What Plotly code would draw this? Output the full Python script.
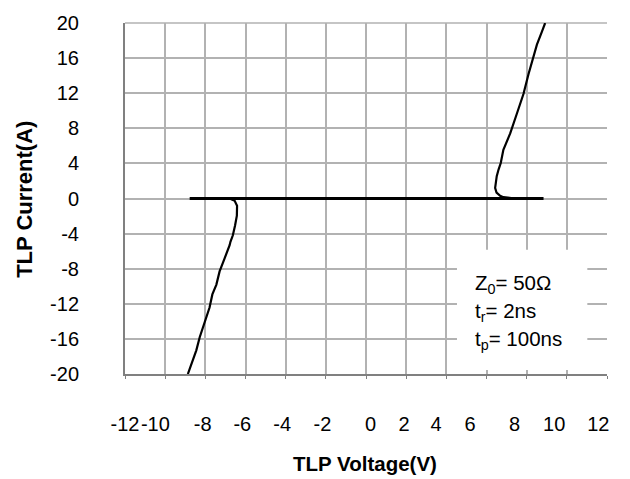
import plotly.graph_objects as go

# ---- data ----
neg_v = [-6.79, -6.54, -6.42, -6.43, -6.52, -6.63, -6.75, -6.79, -7.04, -7.29, -7.45,
         -7.65, -7.79, -7.95, -8.12, -8.28, -8.45, -8.62, -8.78, -8.87]
neg_i = [0.0, -0.26, -0.82, -1.95, -3.07, -4.19, -4.94, -5.32, -6.82, -8.31, -9.81,
         -10.93, -12.43, -13.56, -14.68, -15.81, -17.30, -18.43, -19.55, -20.0]

pos_v = [7.40, 6.84, 6.68, 6.50, 6.43, 6.46, 6.51, 6.60, 6.71, 6.84, 7.02, 7.18,
         7.51, 7.84, 8.09, 8.26, 8.51, 8.76, 8.92]
pos_i = [0.0, 0.15, 0.30, 0.67, 1.20, 1.80, 2.55, 3.30, 4.04, 5.54, 6.50, 7.42,
         9.66, 11.91, 14.16, 15.65, 17.53, 19.02, 20.0]

base_v = [-8.78, 8.84]
base_i = [0.0, 0.0]

x_tick_labels = ["-12", "-10", "-8", "-6", "-4", "-2", "0", "2", "4", "6", "8", "10", "12"]
x_tick_pos = [-12.0, -10.49, -8.13, -6.16, -4.17, -2.17, 0.23, 1.89, 3.49, 5.18, 7.40, 9.37, 11.57]
y_ticks = [-20, -16, -12, -8, -4, 0, 4, 8, 12, 16, 20]

info_lines = ["Z<sub>0</sub>= 50Ω", "t<sub>r</sub>= 2ns", "t<sub>p</sub>= 100ns"]

FONT = "Liberation Sans, Arial, sans-serif"
GRID = "#b2b2b2"
AXIS = "#808080"

fig = go.Figure()
fig.add_trace(go.Scatter(x=base_v, y=base_i, mode="lines",
                         line=dict(color="black", width=3), hoverinfo="skip"))
fig.add_trace(go.Scatter(x=neg_v, y=neg_i, mode="lines",
                         line=dict(color="black", width=2.2), hoverinfo="skip"))
fig.add_trace(go.Scatter(x=pos_v, y=pos_i, mode="lines",
                         line=dict(color="black", width=2.2), hoverinfo="skip"))

fig.update_layout(
    width=630, height=479,
    margin=dict(l=125, r=23, t=18, b=105),
    paper_bgcolor="white", plot_bgcolor="white",
    showlegend=False,
    font=dict(family=FONT, size=20, color="black"),
)

fig.update_xaxes(
    range=[-12, 12],
    tickmode="array", tickvals=x_tick_pos, ticktext=x_tick_labels,
    ticks="", showgrid=False, zeroline=False, tickangle=0,
    showline=True, linecolor=AXIS, linewidth=1.5,
    ticklabelstandoff=31,
    tickfont=dict(size=20),
    minor=dict(tick0=0, dtick=2, showgrid=True, gridcolor=GRID, gridwidth=1.5,
               ticks="outside", ticklen=3, tickcolor=AXIS),
)
fig.update_yaxes(
    range=[-20, 20],
    tickmode="array", tickvals=y_ticks, ticktext=[str(v) for v in y_ticks],
    ticks="outside", ticklen=40, tickcolor="rgba(0,0,0,0)",
    showgrid=True, gridcolor=GRID, gridwidth=1.5, zeroline=False,
    showline=True, linecolor=AXIS, linewidth=2,
    tickfont=dict(size=20),
)

# top frame edge (gridline-coloured)
fig.add_shape(type="line", xref="paper", yref="paper", x0=0, x1=1, y0=1, y1=1,
              line=dict(color=GRID, width=1.5), layer="below")

# white box behind the info text
fig.add_shape(type="rect", xref="x", yref="y", x0=4.53, x1=11.02, y0=-19.55, y1=-5.84,
              fillcolor="white", line=dict(width=0), layer="above")

for txt, yv in zip(info_lines, [-9.78, -12.92, -16.18]):
    fig.add_annotation(x=5.32, y=yv, xref="x", yref="y", text=txt, showarrow=False,
                       xanchor="left", yanchor="middle", font=dict(size=20.5))

fig.add_annotation(x=0.4977, y=-0.2556, xref="paper", yref="paper",
                   text="<b>TLP Voltage(V)</b>", showarrow=False,
                   xanchor="center", yanchor="middle", font=dict(size=20.5))
fig.add_annotation(x=-0.2089, y=0.497, xref="paper", yref="paper",
                   text="<b>TLP Current(A)</b>", showarrow=False, textangle=-90,
                   xanchor="center", yanchor="middle", font=dict(size=22))

fig.write_html("out.html")
